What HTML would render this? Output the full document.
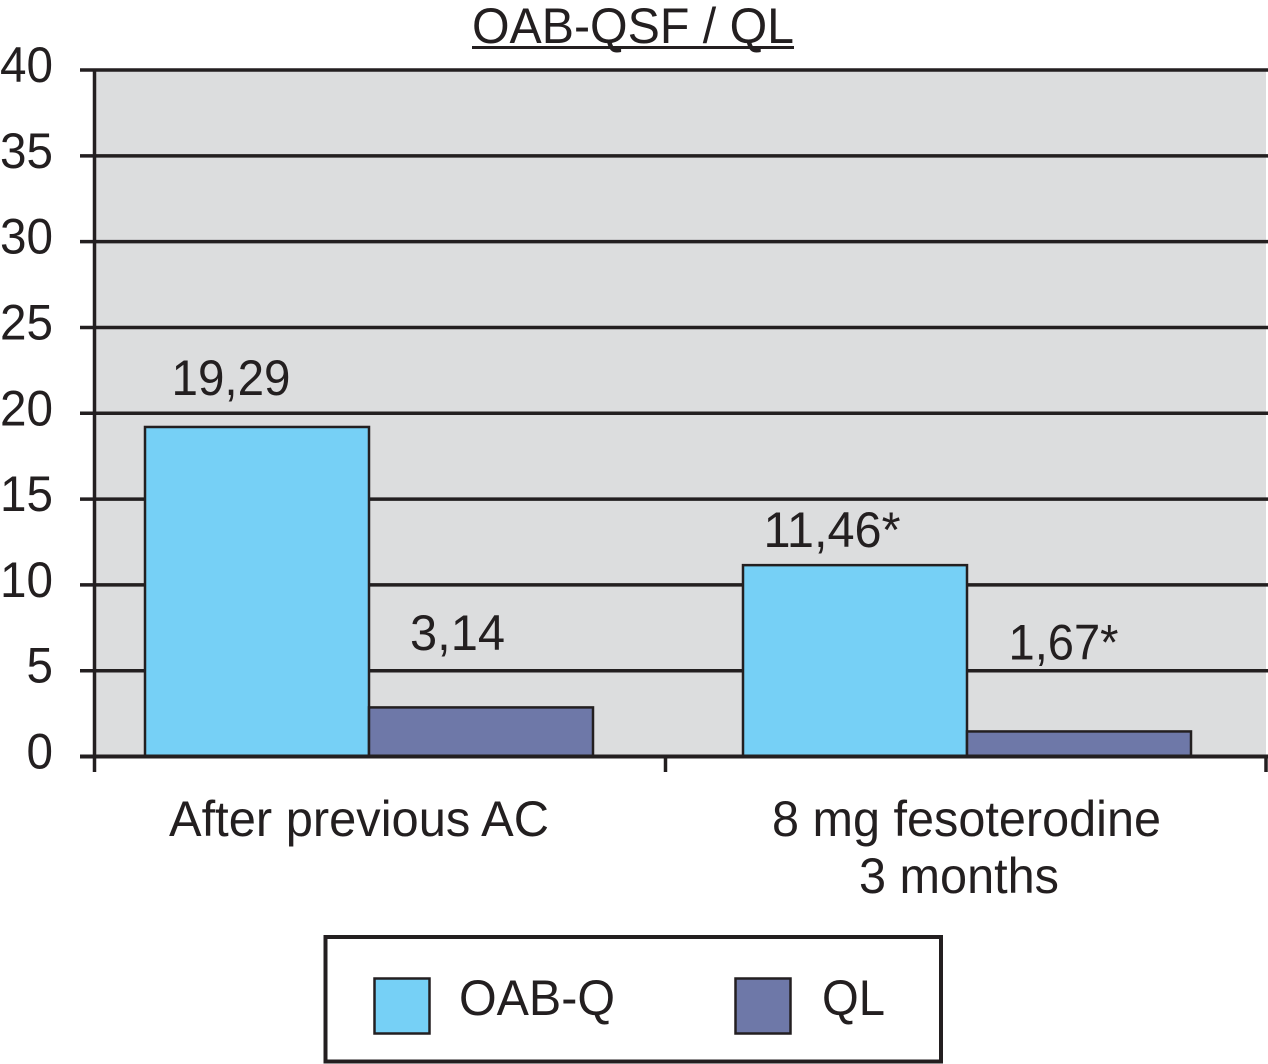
<!DOCTYPE html>
<html lang="en">
<head>
<meta charset="utf-8">
<title>OAB-QSF / QL</title>
<style>
html,body{margin:0;padding:0;background:#fff;width:1268px;height:1064px;overflow:hidden}
svg{display:block}
text{font-family:"Liberation Sans",Arial,sans-serif;font-size:50px;fill:#231f20}
</style>
</head>
<body>
<svg id="chart" xmlns="http://www.w3.org/2000/svg" width="1268" height="1064" viewBox="0 0 1268 1064">
  <rect x="95" y="70" width="1171" height="686" fill="#dcddde"/>
  <g id="grid"></g>
  <g id="bars"></g>
  <g id="axes"></g>
  <g id="labels"></g>
  <text x="472" y="43" textLength="322" lengthAdjust="spacingAndGlyphs">OAB-QSF / QL</text>
  <rect x="472" y="46" width="322" height="3" fill="#231f20"/>
  <g>
    <rect x="325.5" y="937" width="615.5" height="124.5" fill="#fff" stroke="#231f20" stroke-width="4"/>
    <rect x="374.5" y="978.5" width="55" height="55" fill="#76d0f6" stroke="#231f20" stroke-width="2.5"/>
    <text x="459" y="1015" textLength="156" lengthAdjust="spacingAndGlyphs">OAB-Q</text>
    <rect x="735.5" y="978.5" width="55" height="55" fill="#6e78a8" stroke="#231f20" stroke-width="2.5"/>
    <text x="822" y="1015" textLength="63" lengthAdjust="spacingAndGlyphs">QL</text>
  </g>
</svg>
<script>
// Chart data
var categories = [["After previous AC"], ["8 mg fesoterodine", "3 months"]];
// Bar heights
var oabValues = [19.2, 11.15];
var qlValues = [2.86, 1.46];
// Values as printed above the bars
var oabPrinted = ["19,29", "11,46*"];
var qlPrinted = ["3,14", "1,67*"];
var yTicks = [0, 5, 10, 15, 20, 25, 30, 35, 40];

var NS = "http://www.w3.org/2000/svg";
var INK = "#231f20";

function yScale(v) { return 756.5 - v * (686.5 / 40); }
function groupCenter(i) { return 369 + 598 * i; }
var BAR_WIDTH = 224;

function make(tag, attrs, parent) {
  var el = document.createElementNS(NS, tag);
  for (var k in attrs) { el.setAttribute(k, attrs[k]); }
  parent.appendChild(el);
  return el;
}

var grid = document.getElementById("grid");
var bars = document.getElementById("bars");
var axes = document.getElementById("axes");
var labels = document.getElementById("labels");

// Gridlines and y tick labels
yTicks.forEach(function (t) {
  var y = yScale(t);
  var line = make("line", { x1: 80, x2: 1268, y1: y, y2: y, stroke: INK, "stroke-width": t === 0 ? 4 : 3.5 }, t === 0 ? axes : grid);
  
  
  var label = make("text", { x: 53, y: y + 12, "text-anchor": "end", textLength: String(t).length * 26.5, lengthAdjust: "spacingAndGlyphs" }, labels);
  label.textContent = String(t);
  
  
});

// Y axis line and category ticks
var yAxis = make("line", { x1: 94.5, x2: 94.5, y1: 70, y2: 772, stroke: INK, "stroke-width": 3.5 }, axes);


[665.5, 1266].forEach(function (x) {
  var tick = make("line", { x1: x, x2: x, y1: 756, y2: 772, stroke: INK, "stroke-width": 3.5 }, axes);
  
  
});

// Bars
function drawBar(x, value, fill) {
  var top = yScale(value);
  var bar = make("rect", { x: x, y: top, width: BAR_WIDTH, height: yScale(0) - top, fill: fill, stroke: INK, "stroke-width": 2.5 }, bars);
  
  
}
categories.forEach(function (c, i) {
  drawBar(groupCenter(i) - BAR_WIDTH, oabValues[i], "#76d0f6");
  drawBar(groupCenter(i), qlValues[i], "#6e78a8");
});

// Printed value labels: placement relative to each bar follows the reference
function drawValue(text, cx, y, width) {
  var label = make("text", { x: cx - width / 2, y: y, textLength: width, lengthAdjust: "spacingAndGlyphs" }, labels);
  label.textContent = text;
  
  
}
var oabLabelLayout = [{ dx: -138, dy: -32, w: 119 }, { dx: -135, dy: -18, w: 137 }];
var qlLabelLayout = [{ dx: 88.5, dy: -57.5, w: 95 }, { dx: 96.5, dy: -72, w: 110 }];
categories.forEach(function (c, i) {
  var a = oabLabelLayout[i], b = qlLabelLayout[i];
  drawValue(oabPrinted[i], groupCenter(i) + a.dx, yScale(oabValues[i]) + a.dy, a.w);
  drawValue(qlPrinted[i], groupCenter(i) + b.dx, yScale(qlValues[i]) + b.dy, b.w);
});

// Category labels
var catLayout = [
  [{ x: 169, y: 836, w: 380 }],
  [{ x: 772, y: 836, w: 389 }, { x: 859, y: 893, w: 200 }]
];
categories.forEach(function (lines, i) {
  lines.forEach(function (line, j) {
    var p = catLayout[i][j];
    var label = make("text", { x: p.x, y: p.y, textLength: p.w, lengthAdjust: "spacingAndGlyphs" }, labels);
    label.textContent = line;
    
    
  });
});
</script>
</body>
</html>
